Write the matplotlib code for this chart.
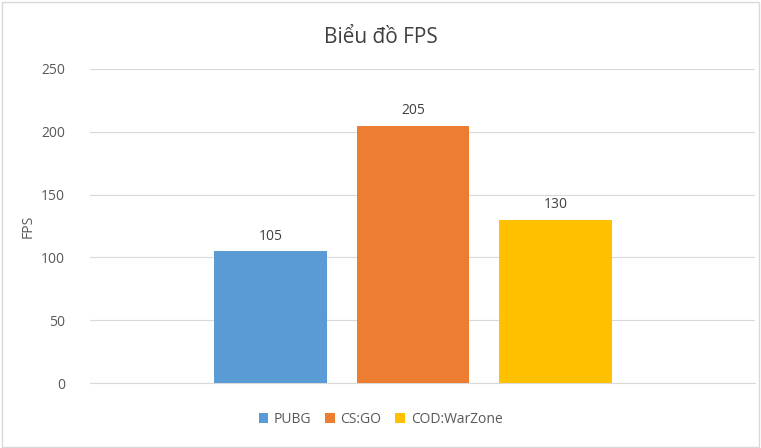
import matplotlib.pyplot as plt

# data
games = ["PUBG", "CS:GO", "COD:WarZone"]
fps = [105, 205, 130]
colors = ["#5B9BD5", "#ED7D31", "#FFC000"]
yticks = [0, 50, 100, 150, 200, 250]

plt.rcParams["font.family"] = "Open Sans"

fig = plt.figure(figsize=(7.61, 4.48), dpi=100)
ax = fig.add_axes([0.118, 0.145, 0.874, 0.701])

positions = [-1, 0, 1]
for pos, name, val, col in zip(positions, games, fps, colors):
    ax.bar(pos, val, width=0.79, color=col, label=name, zorder=3)
    ax.text(pos, val + 6, str(val), ha="center", va="bottom", fontsize=10, color="#404040")

ax.set_xlim(-2.27, 2.40)
ax.set_ylim(0, 250)
ax.set_yticks(yticks)
ax.set_xticks([])
ax.grid(axis="y", color="#D9D9D9", linewidth=0.8, zorder=0)
for side in ["top", "right", "left"]:
    ax.spines[side].set_visible(False)
ax.spines["bottom"].set_color("#D9D9D9")
ax.tick_params(axis="y", length=0, labelsize=10, labelcolor="#595959", pad=18)
ax.set_ylabel("FPS", fontsize=10, color="#595959", labelpad=4)

fig.suptitle("Biểu đồ FPS", y=0.94, fontsize=15, color="#404040")
fig.legend(loc="lower center", bbox_to_anchor=(0.5, 0.02), ncol=3, frameon=False,
           fontsize=10, labelcolor="#595959", handlelength=0.7, handleheight=0.7,
           columnspacing=1.0, handletextpad=0.4)

fig.patches.append(plt.Rectangle((0.002, 0.003), 0.995, 0.993, transform=fig.transFigure,
                                 fill=False, edgecolor="#D9D9D9", linewidth=1))

fig.savefig("out.png", dpi=100)
